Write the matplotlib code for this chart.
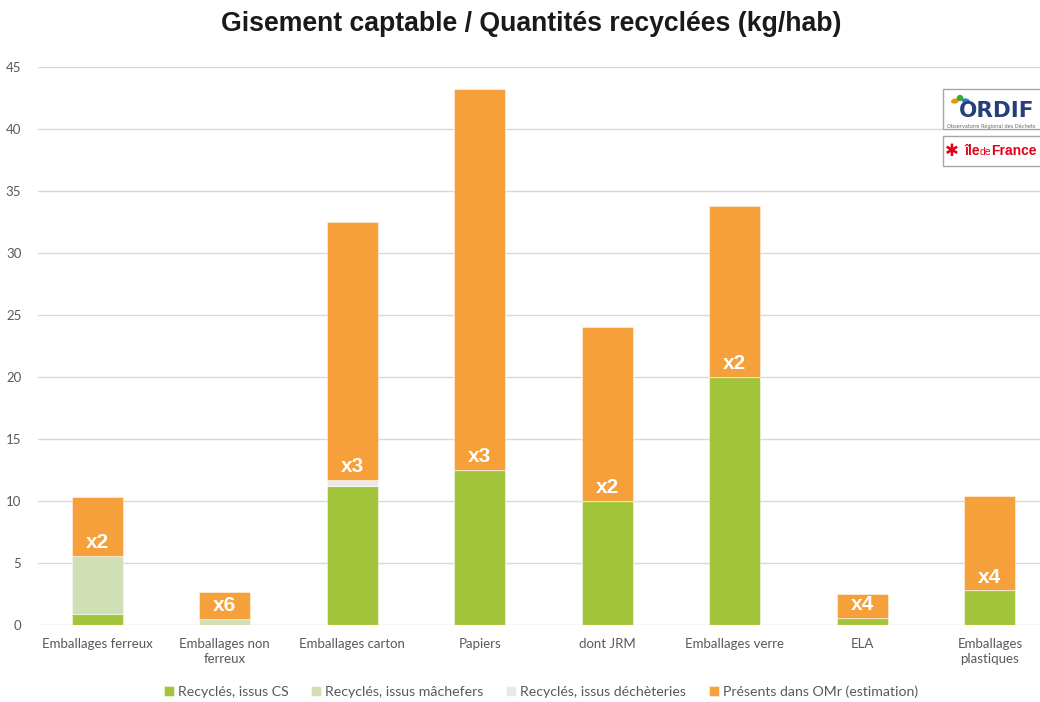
import numpy as np
import matplotlib.pyplot as plt
from matplotlib.patches import Rectangle, Ellipse

# catégories et quantités (kg/hab)
categories = ["Emballages ferreux", "Emballages non\nferreux", "Emballages carton",
              "Papiers", "dont JRM", "Emballages verre", "ELA", "Emballages\nplastiques"]
recycles_cs = [0.9, 0.0, 11.2, 12.5, 10.0, 20.0, 0.6, 2.8]
recycles_machefers = [4.7, 0.5, 0.0, 0.0, 0.0, 0.0, 0.0, 0.0]
recycles_decheteries = [0.0, 0.0, 0.5, 0.0, 0.0, 0.0, 0.0, 0.0]
presents_omr = [4.7, 2.2, 20.8, 30.7, 14.0, 13.8, 1.9, 7.6]
multiplicateurs = ["x2", "x6", "x3", "x3", "x2", "x2", "x4", "x4"]

series = [
    ("Recyclés, issus CS", recycles_cs, "#A2C43A"),
    ("Recyclés, issus mâchefers", recycles_machefers, "#D0DFB5"),
    ("Recyclés, issus déchèteries", recycles_decheteries, "#E9E9E9"),
    ("Présents dans OMr (estimation)", presents_omr, "#F5A03A"),
]

W, H = 1040, 702
fig = plt.figure(figsize=(W / 100, H / 100), dpi=100)
ax = fig.add_axes([38 / W, 1 - 625 / H, (1040 - 38) / W, (625 - 67) / H])

x = np.arange(len(categories))
bottom = np.zeros(len(categories))
for label, vals, col in series:
    vals = np.array(vals)
    ax.bar(x, vals, 0.4, bottom=bottom, color=col, label=label,
           edgecolor=(1, 1, 1, 0.45), linewidth=0.8, zorder=3)
    bottom += vals

# facteur multiplicatif posé au bas de la part OMr
recycled = np.array(recycles_cs) + np.array(recycles_machefers) + np.array(recycles_decheteries)
for xi, base, txt in zip(x, recycled, multiplicateurs):
    ax.text(xi, base + 0.3, txt, ha="center", va="bottom", color="white",
            fontsize=15, fontweight="bold", family="Liberation Sans", zorder=4)

ax.set_xlim(-(97 - 38) / 127.5, 7 + (1040 - 990) / 127.5)
ax.set_ylim(0, 45)
ax.set_yticks(np.arange(0, 46, 5))
ax.yaxis.grid(True, color="#D9D9D9", linewidth=1)
ax.set_axisbelow(True)
for s in ax.spines.values():
    s.set_visible(False)
ax.tick_params(length=0, labelcolor="#595959", labelsize=9.5)
ax.tick_params(axis="y", pad=12)
ax.tick_params(axis="x", pad=9)
ax.set_xticks(x)
ax.set_xticklabels(categories, family="Lato", linespacing=1.35)
for t in ax.get_yticklabels():
    t.set_family("Lato")

fig.text(531 / W, 1 - 24 / H, "Gisement captable / Quantités recyclées (kg/hab)",
         ha="center", va="center", fontsize=19.2, fontweight="bold",
         family="Liberation Sans", color="#1a1a1a")

leg = fig.legend(loc="center", bbox_to_anchor=(541 / W, 1 - 692 / H), ncol=4,
                 frameon=False, handlelength=0.7, handleheight=0.7,
                 handletextpad=0.3, columnspacing=1.6,
                 prop={"family": "Lato", "size": 10.2})
for t in leg.get_texts():
    t.set_color("#595959")

# logos ORDIF / Île-de-France
fig.patches.append(Rectangle((943 / W, 1 - 129 / H), 100 / W, 40 / H,
                             transform=fig.transFigure, facecolor="white",
                             edgecolor="#A6A6A6", linewidth=1))
fig.patches.append(Rectangle((943 / W, 1 - 166 / H), 100 / W, 30 / H,
                             transform=fig.transFigure, facecolor="white",
                             edgecolor="#A6A6A6", linewidth=1))
for cx, cy, c, a in [(955, 101, "#F39200", 30), (960, 98, "#3AAA35", 90),
                     (966, 101, "#1E88C8", 150)]:
    fig.patches.append(Ellipse((cx / W, 1 - cy / H), 7 / W, 3.5 / H, angle=a,
                               transform=fig.transFigure, color=c))
fig.text(959 / W, 1 - 111 / H, "ORDIF", fontsize=15.5, fontweight="bold",
         color="#263F7A", family="DejaVu Sans", va="center", ha="left")
fig.text(947 / W, 1 - 126 / H, "Observatoire Régional des Déchets", fontsize=3.6,
         color="#666666", va="center", ha="left")
fig.text(945 / W, 1 - 151 / H, "✱", fontsize=12, color="#E2001A",
         va="center", ha="left", family="DejaVu Sans", fontweight="bold")
fig.text(964 / W, 1 - 151 / H, "île", fontsize=10, color="#E2001A",
         va="center", ha="left", fontweight="bold", family="Liberation Sans")
fig.text(979.5 / W, 1 - 152 / H, "de", fontsize=7.5, color="#E2001A",
         va="center", ha="left", family="Liberation Sans")
fig.text(991 / W, 1 - 151 / H, "France", fontsize=10, color="#E2001A",
         va="center", ha="left", fontweight="bold", family="Liberation Sans")

fig.savefig("out.png", dpi=100)
